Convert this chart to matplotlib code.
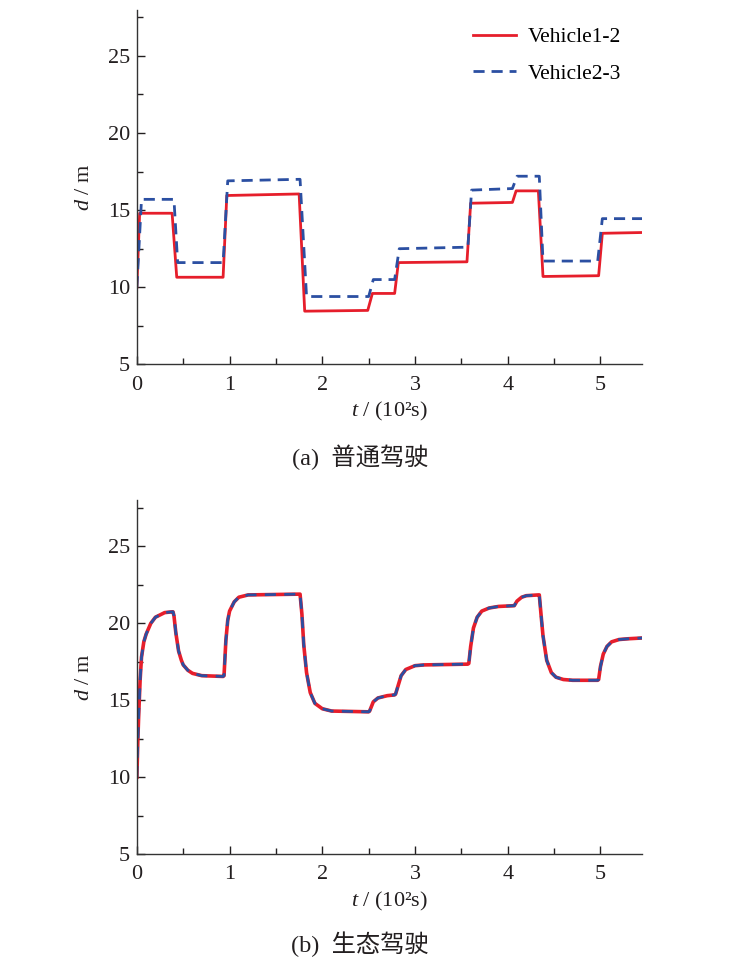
import numpy as np
import matplotlib.pyplot as plt
from matplotlib.ticker import MultipleLocator

plt.rcParams['font.family'] = ['Liberation Serif', 'Noto Sans CJK SC']
plt.rcParams['mathtext.fontset'] = 'custom'
plt.rcParams['mathtext.it'] = 'Liberation Serif:italic'
plt.rcParams['mathtext.rm'] = 'Liberation Serif'

# (a) ordinary driving - breakpoints
t_a1 = [0, 0.03, 0.38, 0.43, 0.93, 0.97, 1.75, 1.81, 2.49, 2.54, 2.78, 2.82, 3.56, 3.60, 4.05, 4.09, 4.33, 4.38, 4.98, 5.02, 5.45]
d_a1 = [10, 14.8, 14.8, 10.65, 10.65, 15.95, 16.05, 8.45, 8.5, 9.6, 9.6, 11.6, 11.65, 15.45, 15.5, 16.25, 16.25, 10.7, 10.75, 13.5, 13.55]
t_a2 = [0, 0.05, 0.40, 0.44, 0.93, 0.98, 1.76, 1.83, 2.50, 2.55, 2.78, 2.83, 3.57, 3.61, 4.05, 4.10, 4.34, 4.38, 4.97, 5.02, 5.45]
d_a2 = [10, 15.7, 15.7, 11.6, 11.6, 16.9, 17.0, 9.4, 9.4, 10.5, 10.5, 12.5, 12.6, 16.3, 16.4, 17.2, 17.2, 11.7, 11.7, 14.45, 14.45]

# (b) eco driving - both vehicles overlap
t_b = [0, 0.01, 0.02, 0.035, 0.05, 0.075, 0.1, 0.15, 0.2, 0.3, 0.38, 0.39, 0.40,
       0.42, 0.45, 0.48, 0.5, 0.55, 0.6, 0.7, 0.93, 0.94, 0.96, 0.98, 1.0, 1.05, 1.1, 1.2, 1.75,
       1.76, 1.78, 1.8, 1.83, 1.87, 1.92, 2.0, 2.1, 2.5, 2.51, 2.55, 2.6, 2.7, 2.78,
       2.79, 2.82, 2.85, 2.9, 3.0, 3.1, 3.57, 3.58, 3.6, 3.63, 3.67, 3.72, 3.8, 3.9, 4.07,
       4.1, 4.15, 4.2, 4.33, 4.34, 4.36, 4.38, 4.42, 4.47, 4.52, 4.6, 4.7, 4.97,
       4.98, 5.0, 5.03, 5.07, 5.12, 5.2, 5.3, 5.45]
d_b = [10, 12.3, 14.1, 16.3, 17.8, 18.8, 19.3, 20.0, 20.4, 20.7, 20.75, 20.75, 20.5,
       19.4, 18.2, 17.6, 17.3, 16.95, 16.75, 16.6, 16.55, 16.6, 18.9, 20.2, 20.8, 21.4, 21.7, 21.85, 21.9,
       21.9, 20.6, 18.6, 16.8, 15.5, 14.8, 14.45, 14.3, 14.25, 14.3, 14.9, 15.15, 15.3, 15.35,
       15.4, 16.0, 16.6, 17.0, 17.25, 17.3, 17.35, 17.4, 18.5, 19.7, 20.4, 20.8, 21.0, 21.1, 21.15,
       21.45, 21.7, 21.8, 21.85, 21.85, 20.5, 19.2, 17.6, 16.8, 16.5, 16.35, 16.3, 16.3,
       16.35, 17.2, 18.0, 18.5, 18.8, 18.95, 19.0, 19.05]

labels = ['Vehicle1-2', 'Vehicle2-3']
red = '#e61e2b'
blue = '#2b4fa2'
ink = '#231f20'

fig = plt.figure(figsize=(7.52, 9.64), dpi=100)
ax1 = fig.add_axes([0.182, 0.622, 0.672, 0.368])
ax2 = fig.add_axes([0.182, 0.114, 0.672, 0.367])

ax1.plot(t_a1, d_a1, color=red, lw=2.0, label=labels[0])
ax1.plot(t_a2, d_a2, color=blue, lw=2.0, ls=(0, (4, 2.5)), label=labels[1])
ax2.plot(t_b, d_b, color=red, lw=2.6)
ax2.plot(t_b, d_b, color=blue, lw=2.0, ls=(0, (4, 3)))

ax1.legend(loc='upper right', frameon=False, fontsize=15.5, handlelength=2.0,
           handletextpad=0.55, bbox_to_anchor=(0.997, 1.005), labelspacing=0.75)

for ax in (ax1, ax2):
    ax.set_xlim(0, 5.45)
    ax.set_ylim(5, 28)
    ax.spines['top'].set_visible(False)
    ax.spines['right'].set_visible(False)
    for s in ('left', 'bottom'):
        ax.spines[s].set_color('#333333')
        ax.spines[s].set_linewidth(1.0)
    ax.xaxis.set_major_locator(MultipleLocator(1))
    ax.xaxis.set_minor_locator(MultipleLocator(0.5))
    ax.yaxis.set_major_locator(MultipleLocator(5))
    ax.yaxis.set_minor_locator(MultipleLocator(2.5))
    ax.tick_params(which='major', direction='in', length=6, width=1, labelsize=16, colors=ink)
    ax.tick_params(axis='x', which='major', pad=8)
    ax.tick_params(axis='y', which='major', pad=5)
    ax.tick_params(which='minor', direction='in', length=4, width=1, colors=ink)
    ax.set_xlabel(r'$t$ / (10²s)', fontsize=16, color=ink, labelpad=4)
    ax.set_ylabel(r'$d$ / m', fontsize=16, color=ink, labelpad=10)

fig.text(0.479, 0.526, '(a)  普通驾驶', ha='center', va='center', fontsize=17.5, color=ink)
fig.text(0.479, 0.021, '(b)  生态驾驶', ha='center', va='center', fontsize=17.5, color=ink)

fig.savefig('out.png', dpi=100)
